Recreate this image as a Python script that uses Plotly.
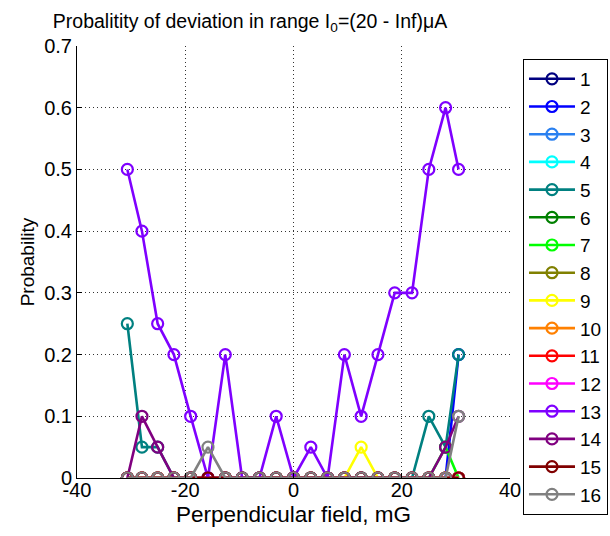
import plotly.graph_objects as go

field = [-30.7, -28.0, -25.1, -22.1, -19.0, -15.8, -12.6, -9.5, -6.3, -3.2, 0.0,
         3.2, 6.3, 9.4, 12.5, 15.6, 18.7, 21.9, 25.0, 28.1, 30.5]

z = [0.0] * 21
s1 = list(z)
s2 = [0, 0, 0, 0, 0, 0, 0, 0, 0, 0, 0, 0, 0, 0, 0, 0, 0, 0, 0, 0, 0.2]
s3 = list(z)
s4 = list(z)
s5 = [0.25, 0.05, 0.05, 0, 0, 0, 0, 0, 0, 0, 0, 0, 0, 0, 0, 0, 0, 0, 0.1, 0.05, 0.2]
s6 = list(z)
s7 = [0, 0, 0, 0, 0, 0, 0, 0, 0, 0, 0, 0, 0, 0, 0, 0, 0, 0, 0, 0.05, 0]
s8 = list(z)
s9 = [0, 0, 0, 0, 0, 0, 0, 0, 0, 0, 0, 0, 0, 0, 0.05, 0, 0, 0, 0, 0, 0]
s10 = list(z)
s11 = list(z)
s12 = list(z)
s13 = [0.5, 0.4, 0.25, 0.2, 0.1, 0, 0.2, 0, 0, 0.1, 0, 0.05, 0, 0.2, 0.1, 0.2, 0.3, 0.3, 0.5, 0.6, 0.5]
s14 = [0, 0.1, 0.05, 0, 0, 0, 0, 0, 0, 0, 0, 0, 0, 0, 0, 0, 0, 0, 0, 0.05, 0.1]
s15 = list(z)
s16 = [0, 0, 0, 0, 0, 0.05, 0, 0, 0, 0, 0, 0, 0, 0, 0, 0, 0, 0, 0, 0, 0.1]

series = [s1, s2, s3, s4, s5, s6, s7, s8, s9, s10, s11, s12, s13, s14, s15, s16]
names = [str(i) for i in range(1, 17)]
colors = ["#000080", "#0000FF", "#2A80F0", "#00FFFF", "#008080", "#008000", "#00FF00", "#808000",
          "#FFFF00", "#FF8000", "#FF0000", "#FF00FF", "#7F00FF", "#800080", "#800000", "#808080"]

x_ticks = [-40, -20, 0, 20, 40]
x_ticktext = ["-40", "-20", "0", "20", "40"]
y_ticks = [0, 0.1, 0.2, 0.3, 0.4, 0.5, 0.6, 0.7]
y_ticktext = ["0", "0.1", "0.2", "0.3", "0.4", "0.5", "0.6", "0.7"]

FONT = "Arial, Liberation Sans, sans-serif"

fig = go.Figure()
for nm, ys, c in zip(names, series, colors):
    fig.add_trace(go.Scatter(
        x=field, y=ys, name=nm, mode="lines+markers",
        line=dict(color=c, width=2.6),
        marker=dict(symbol="circle-open", size=11, color=c, line=dict(width=2.2, color=c)),
    ))

fig.update_layout(
    width=610, height=536,
    margin=dict(l=77, r=100, t=46, b=58, autoexpand=False),
    paper_bgcolor="white", plot_bgcolor="white",
    font=dict(family=FONT, size=19, color="black"),
    title=dict(text="Probalitity of deviation in range I<sub>0</sub>=(20 - Inf)μA",
               x=(250 - 77) / 433, xref="paper", xanchor="center",
               y=1 - 21 / 536, yref="container", yanchor="middle",
               font=dict(family=FONT, size=19.5, color="black")),
    legend=dict(x=1.030, y=0.970, xanchor="left", yanchor="top",
                bordercolor="black", borderwidth=1, bgcolor="white",
                font=dict(family=FONT, size=19, color="black"),
                itemwidth=46, tracegroupgap=0, maxheight=530),
    showlegend=True,
)
fig.update_xaxes(range=[-40, 40], tickvals=x_ticks, ticktext=x_ticktext,
                 showline=True, linecolor="black", linewidth=1,
                 ticks="inside", ticklen=5, tickcolor="black",
                 showgrid=True, gridcolor="#333333", griddash="1px,3px", gridwidth=1,
                 zeroline=False, mirror=False, automargin=False,
                 ticklabelstandoff=-6,
                 title=dict(text="Perpendicular field, mG", standoff=6,
                            font=dict(family=FONT, size=22.5)),
                 tickfont=dict(family=FONT, size=20))
fig.update_yaxes(range=[0, 0.7], tickvals=y_ticks, ticktext=y_ticktext,
                 showline=True, linecolor="black", linewidth=1,
                 ticks="inside", ticklen=5, tickcolor="black",
                 showgrid=True, gridcolor="#333333", griddash="1px,3px", gridwidth=1,
                 zeroline=False, mirror=False, automargin=False,
                 title=dict(text="Probability", standoff=4,
                            font=dict(family=FONT, size=19)),
                 tickfont=dict(family=FONT, size=20))

fig.write_html("out.html", config={"displayModeBar": False},
               post_script="document.body.style.margin='0px';")
